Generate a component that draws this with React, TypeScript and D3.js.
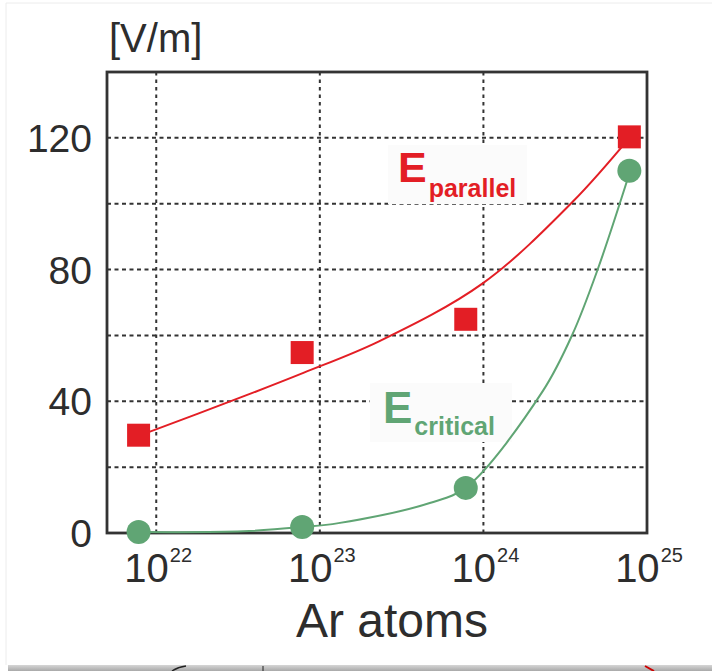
import React, { useEffect, useRef } from 'react';
import * as d3 from 'd3';

// measured points (Ar atoms, field in V/m)
const atoms = [7.8e21, 7.8e22, 7.8e23, 7.8e24];
const eParallel = [29.7, 54.8, 64.9, 120.3];
const eCritical = [0.3, 1.8, 13.7, 110];

// fitted trend lines
const parallelFitAtoms = [7.8e21, 3.5e22, 8.0e22, 2.3e23, 9.9e23, 3.5e24, 7.9e24];
const parallelFitValues = [29.5, 41.7, 48.7, 58.2, 75.8, 100.5, 120.3];
const criticalFitAtoms = [7.8e21, 3.4e22, 7.8e22, 1.3e23, 4.7e23, 7.9e23, 2.3e24, 3.5e24, 5.0e24, 7.9e24];
const criticalFitValues = [0.3, 0.5, 1.8, 3.0, 9.1, 14.0, 43, 60.3, 80.1, 110];

const yTicks = [0, 40, 80, 120];
const yGrid = [20, 40, 60, 80, 100, 120];
const xTicks = [1e22, 1e23, 1e24, 1e25];
const xTickExponents = ['22', '23', '24', '25'];

const RED = '#e31e25';
const GREEN = '#60a574';
const INK = '#2d2d2d';
const FONT = 'Arial, "Liberation Sans", Helvetica, sans-serif';

const App: React.FC = () => {
  const svgRef = useRef<SVGSVGElement>(null);

  useEffect(() => {
    if (!svgRef.current) return;
    const svg = d3.select(svgRef.current);
    svg.selectAll('*').remove();

    const width = 712;
    const height = 671;
    const frame = { left: 107, right: 647, top: 72, bottom: 533 };

    const xScale = d3.scaleLog().domain([5e21, 1e25]).range([frame.left, frame.right]);
    const yScale = d3.scaleLinear().domain([0, 140]).range([frame.bottom, frame.top]);

    // page card + grey strip of the next figure at the bottom
    svg.append('rect').attr('width', width).attr('height', height).attr('fill', '#fff');
    svg.append('path')
      .attr('d', `M6,${height - 6}V3H${width}`)
      .attr('fill', 'none')
      .attr('stroke', '#ececec')
      .attr('stroke-width', 1);
    const grad = svg.append('defs').append('linearGradient')
      .attr('id', 'strip')
      .attr('x1', 0).attr('x2', 0).attr('y1', 0).attr('y2', 1);
    grad.append('stop').attr('offset', '0%').attr('stop-color', '#d6d6d6');
    grad.append('stop').attr('offset', '100%').attr('stop-color', '#a9a9a9');
    svg.append('rect')
      .attr('x', 8).attr('y', 665)
      .attr('width', width - 8).attr('height', 6)
      .attr('fill', 'url(#strip)');
    svg.append('line').attr('x1', 263).attr('x2', 263).attr('y1', 666).attr('y2', 671)
      .attr('stroke', '#222').attr('stroke-width', 1);
    svg.append('path').attr('d', 'M172,671 Q178,667 186,666').attr('fill', 'none')
      .attr('stroke', '#222').attr('stroke-width', 1.5);
    svg.append('path').attr('d', 'M645,666 L654,671').attr('fill', 'none')
      .attr('stroke', '#c00').attr('stroke-width', 2);

    const g = svg.append('g');

    // dotted grid
    g.selectAll('line.hgrid')
      .data(yGrid)
      .enter()
      .append('line')
      .attr('class', 'hgrid')
      .attr('x1', frame.left)
      .attr('x2', frame.right)
      .attr('y1', (d: number) => yScale(d))
      .attr('y2', (d: number) => yScale(d))
      .attr('stroke', '#333')
      .attr('stroke-width', 2)
      .attr('stroke-dasharray', '4,3.5');

    g.selectAll('line.vgrid')
      .data(xTicks.slice(0, 3))
      .enter()
      .append('line')
      .attr('class', 'vgrid')
      .attr('x1', (d: number) => xScale(d))
      .attr('x2', (d: number) => xScale(d))
      .attr('y1', frame.top)
      .attr('y2', frame.bottom)
      .attr('stroke', '#333')
      .attr('stroke-width', 2)
      .attr('stroke-dasharray', '3.5,4');

    // label backgrounds hide the grid behind them
    g.append('rect').attr('x', 388).attr('y', 145).attr('width', 139).attr('height', 59).attr('fill', '#fbfbfb');
    g.append('rect').attr('x', 370).attr('y', 383).attr('width', 142).attr('height', 59).attr('fill', '#fbfbfb');

    // frame
    g.append('rect')
      .attr('x', frame.left)
      .attr('y', frame.top)
      .attr('width', frame.right - frame.left)
      .attr('height', frame.bottom - frame.top)
      .attr('fill', 'none')
      .attr('stroke', '#333')
      .attr('stroke-width', 2.8);

    const line = d3.line<[number, number]>()
      .x(d => xScale(d[0]))
      .y(d => yScale(d[1]))
      .curve(d3.curveCatmullRom.alpha(0.5));

    const parallelFit = parallelFitAtoms.map((a, i) => [a, parallelFitValues[i]] as [number, number]);
    const criticalFit = criticalFitAtoms.map((a, i) => [a, criticalFitValues[i]] as [number, number]);

    g.append('path')
      .attr('d', line(parallelFit))
      .attr('fill', 'none')
      .attr('stroke', RED)
      .attr('stroke-width', 2);

    g.append('path')
      .attr('d', line(criticalFit))
      .attr('fill', 'none')
      .attr('stroke', GREEN)
      .attr('stroke-width', 2);

    const sq = 23;
    g.selectAll('rect.par')
      .data(atoms)
      .enter()
      .append('rect')
      .attr('class', 'par')
      .attr('x', (d: number) => xScale(d) - sq / 2)
      .attr('y', (_d: number, i: number) => yScale(eParallel[i]) - sq / 2)
      .attr('width', sq)
      .attr('height', sq)
      .attr('fill', RED);

    g.selectAll('circle.crit')
      .data(atoms)
      .enter()
      .append('circle')
      .attr('class', 'crit')
      .attr('cx', (d: number) => xScale(d))
      .attr('cy', (_d: number, i: number) => yScale(eCritical[i]))
      .attr('r', 12)
      .attr('fill', GREEN);

    // series labels
    const parLabel = g.append('text')
      .attr('x', 398)
      .attr('y', 182)
      .attr('font-family', FONT)
      .attr('font-weight', 'bold')
      .attr('fill', RED);
    parLabel.append('tspan').style('font-size', '43px').text('E');
    parLabel.append('tspan').attr('dx', 2).attr('dy', 15).style('font-size', '25px').text('parallel');

    const critLabel = g.append('text')
      .attr('x', 383)
      .attr('y', 423)
      .attr('font-family', FONT)
      .attr('font-weight', 'bold')
      .attr('fill', GREEN);
    critLabel.append('tspan').style('font-size', '44px').text('E');
    critLabel.append('tspan').attr('dx', 2).attr('dy', 12).style('font-size', '25px').text('critical');

    // y tick labels
    g.selectAll('text.ytick')
      .data(yTicks)
      .enter()
      .append('text')
      .attr('class', 'ytick')
      .attr('x', 92)
      .attr('y', (d: number) => yScale(d) + 14)
      .attr('text-anchor', 'end')
      .attr('font-family', FONT)
      .style('font-size', '39px')
      .attr('fill', INK)
      .text((d: number) => String(d));

    // x tick labels 10^n
    xTicks.forEach((t, i) => {
      const label = g.append('text')
        .attr('x', xScale(t) + 2)
        .attr('y', 582)
        .attr('text-anchor', 'middle')
        .attr('font-family', FONT)
        .attr('fill', INK);
      label.append('tspan').style('font-size', '40px').text('10');
      label.append('tspan').attr('dx', 1).attr('dy', -20).style('font-size', '20px').text(xTickExponents[i]);
    });

    svg.append('text')
      .attr('x', 392)
      .attr('y', 637)
      .attr('text-anchor', 'middle')
      .attr('font-family', FONT)
      .style('font-size', '48px')
      .attr('fill', INK)
      .text('Ar atoms');

    svg.append('text')
      .attr('x', 109)
      .attr('y', 52)
      .attr('font-family', FONT)
      .style('font-size', '40px')
      .attr('fill', INK)
      .text('[V/m]');
  }, []);

  return (
    <svg
      ref={svgRef}
      width={712}
      height={671}
      style={{ position: 'absolute', left: 0, top: 0, display: 'block' }}
    />
  );
};

export default App;
